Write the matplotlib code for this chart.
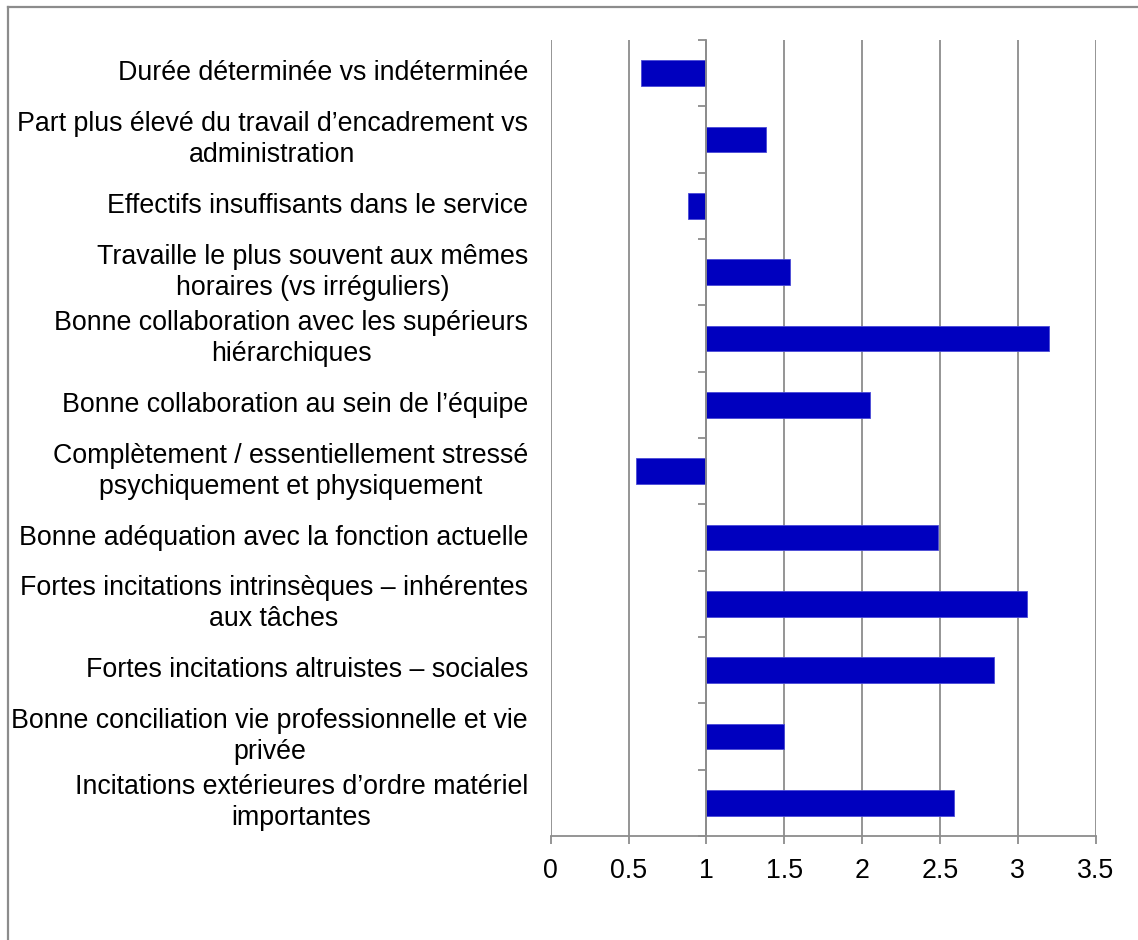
import matplotlib
matplotlib.use('Agg')
import matplotlib.pyplot as plt
from matplotlib.lines import Line2D

# categories, top to bottom
labels = [
    'Durée déterminée vs indéterminée',
    'Part plus élevé du travail d\u2019encadrement vs\nadministration',
    'Effectifs insuffisants dans le service',
    'Travaille le plus souvent aux mêmes\nhoraires (vs irréguliers)',
    'Bonne collaboration avec les supérieurs\nhiérarchiques',
    'Bonne collaboration au sein de l\u2019équipe',
    'Complètement / essentiellement stressé\npsychiquement et physiquement',
    'Bonne adéquation avec la fonction actuelle',
    'Fortes incitations intrinsèques \u2013 inhérentes\naux tâches',
    'Fortes incitations altruistes \u2013 sociales',
    'Bonne conciliation vie professionnelle et vie\nprivée',
    'Incitations extérieures d\u2019ordre matériel\nimportantes',
]
values = [0.58, 1.38, 0.88, 1.54, 3.20, 2.05, 0.55, 2.49, 3.06, 2.85, 1.50, 2.59]
xticks = [0, 0.5, 1, 1.5, 2, 2.5, 3, 3.5]
base = 1.0

plt.rcParams['font.family'] = ['Liberation Sans', 'DejaVu Sans']

fig = plt.figure(figsize=(11.38, 9.4), dpi=100)
ax = fig.add_axes([0.4839, 0.1106, 0.4789, 0.8468])

grey = '#8c8c8c'
bar_col = '#0000bf'

ypos = list(range(len(labels)))
widths = [v - base for v in values]
ax.barh(ypos, widths, left=base, height=0.39, color=bar_col,
        edgecolor='#4a4ad6', linewidth=0.6, zorder=3)

ax.set_xlim(0, 3.5)
ax.set_ylim(len(labels) - 0.5, -0.5)

# vertical grid
ax.set_xticks(xticks)
ax.set_xticklabels([f'{t:g}' for t in xticks], fontsize=19.3)
ax.grid(axis='x', color=grey, linewidth=1.3, zorder=1)
ax.set_axisbelow(True)

# category axis sits at x = 1, ticks at category boundaries
ax.spines['left'].set_position(('data', base))
ax.spines['left'].set_color(grey)
ax.spines['left'].set_linewidth(1.3)
ax.spines['left'].set_zorder(4)
ax.spines['bottom'].set_color(grey)
ax.spines['bottom'].set_linewidth(1.3)
ax.spines['top'].set_visible(False)
ax.spines['right'].set_visible(False)
ax.set_yticks([i - 0.5 for i in range(len(labels) + 1)])
ax.set_yticklabels([])
ax.tick_params(axis='y', length=6, width=1.3, color=grey, direction='out')
ax.tick_params(axis='x', length=6, width=1.3, color=grey, direction='out', pad=10)

for i, lab in enumerate(labels):
    ax.text(-0.0417, i, lab, transform=ax.get_yaxis_transform(),
            ha='right', va='center', multialignment='center', fontsize=19.3,
            color='black', linespacing=1.24)

# outer frame (only left and top edges are visible)
fig.add_artist(Line2D([7.5 / 1138, 7.5 / 1138], [0, 1 - 6.5 / 940],
                      transform=fig.transFigure, color=grey, linewidth=1.6))
fig.add_artist(Line2D([7.5 / 1138, 1], [1 - 6.5 / 940, 1 - 6.5 / 940],
                      transform=fig.transFigure, color=grey, linewidth=1.6))

fig.savefig('out.png', dpi=100)
